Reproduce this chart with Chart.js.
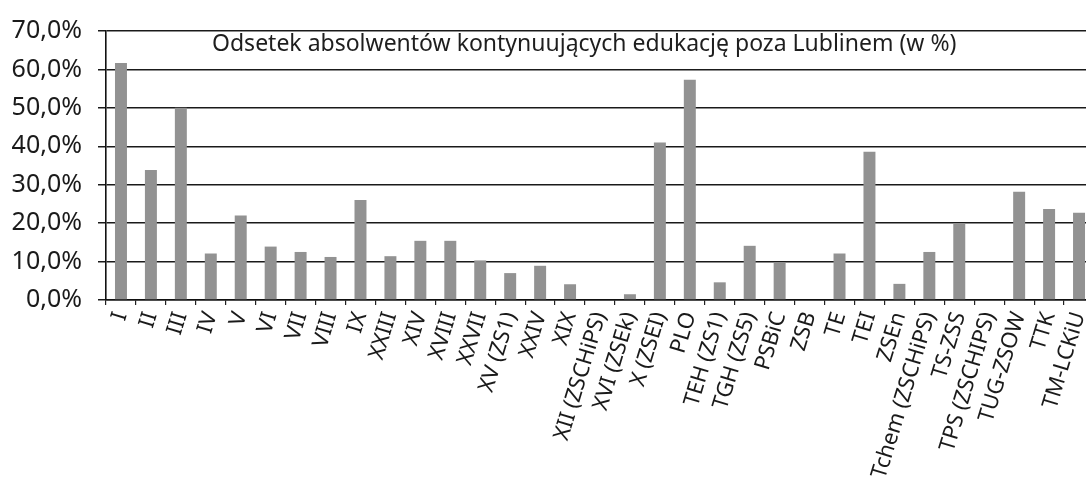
<!DOCTYPE html>
<html>
<head>
<meta charset="utf-8">
<script src="https://cdn.jsdelivr.net/npm/chart.js@4/dist/chart.umd.min.js"></script>
<style>
  html, body { margin: 0; padding: 0; background: #fff; overflow: hidden; }
  #wrap { width: 1094px; height: 484px; position: relative; }
</style>
</head>
<body>
<div id="wrap"><canvas id="c" width="1094" height="484"></canvas></div>
<script>
const categories = ["I","II","III","IV","V","VI","VII","VIII","IX","XXIII","XIV","XVIII","XXVII","XV (ZS1)","XXIV","XIX","XII (ZSCHiPS)","XVI (ZSEk)","X (ZSEI)","PLO","TEH (ZS1)","TGH (ZS5)","PSBiC","ZSB","TE","TEI","ZSEn","Tchem (ZSCHiPS)","TS-ZSS","TPS (ZSCHIPS)","TUG-ZSOW","TTK","TM-LCKiU"];
const values = [61.7,33.8,50.0,12.1,22.0,13.9,12.5,11.2,26.0,11.4,15.4,15.4,10.3,7.0,8.9,4.1,0,1.5,41.0,57.3,4.6,14.1,9.7,0,12.1,38.6,4.2,12.5,19.9,0,28.2,23.7,22.7];
const yTicks = [0,10,20,30,40,50,60,70];
const titleText = "Odsetek absolwentów kontynuujących edukację poza Lublinem (w %)";

const titlePlugin = {
  id: 'inlineTitle',
  afterDraw(chart) {
    const ctx = chart.ctx;
    ctx.save();
    ctx.font = '23px "Noto Sans"';
    ctx.fillStyle = '#1e1e1e';
    ctx.textBaseline = 'alphabetic';
    ctx.textAlign = 'left';
    ctx.fillText(titleText, 212, 51);
    ctx.restore();
  }
};
const bgPlugin = {
  id: 'bg',
  beforeDraw(chart) {
    const ctx = chart.ctx;
    ctx.save();
    ctx.fillStyle = '#fff';
    ctx.fillRect(0, 0, chart.width, chart.height);
    ctx.restore();
  }
};

new Chart(document.getElementById('c'), {
  type: 'bar',
  data: {
    labels: categories,
    datasets: [{
      data: values,
      backgroundColor: '#929292',
      borderWidth: 0,
      categoryPercentage: 1.0,
      barPercentage: 0.4
    }]
  },
  options: {
    responsive: false,
    animation: false,
    layout: { padding: { top: 14, right: 0, bottom: 0, left: 0 } },
    plugins: { legend: { display: false }, tooltip: { enabled: false }, title: { display: false } },
    scales: {
      x: {
        grid: { display: true, drawOnChartArea: false, drawTicks: true, tickLength: 5, color: '#222', lineWidth: 1.2, offset: true },
        border: { display: true, color: '#111', width: 1.6 },
        ticks: {
          autoSkip: false,
          minRotation: 73,
          maxRotation: 73,
          padding: 4,
          color: '#1a1a1a',
          font: { family: '"Noto Sans"', size: 22 }
        },
        afterFit(scale) { scale.height = 184; scale.paddingRight = 0; scale.paddingLeft = 0; }
      },
      y: {
        min: 0,
        max: 70,
        afterBuildTicks(scale) { scale.ticks = yTicks.map(v => ({ value: v })); },
        grid: { color: '#1a1a1a', lineWidth: 1.5, tickLength: 8 },
        border: { display: true, color: '#111', width: 1.6 },
        ticks: {
          padding: 16,
          color: '#1a1a1a',
          font: { family: '"Noto Sans"', size: 25 },
          callback: (v) => v.toFixed(1).replace('.', ',') + '%'
        },
        afterFit(scale) { scale.width = 106; }
      }
    }
  },
  plugins: [bgPlugin, titlePlugin]
});
</script>
</body>
</html>
